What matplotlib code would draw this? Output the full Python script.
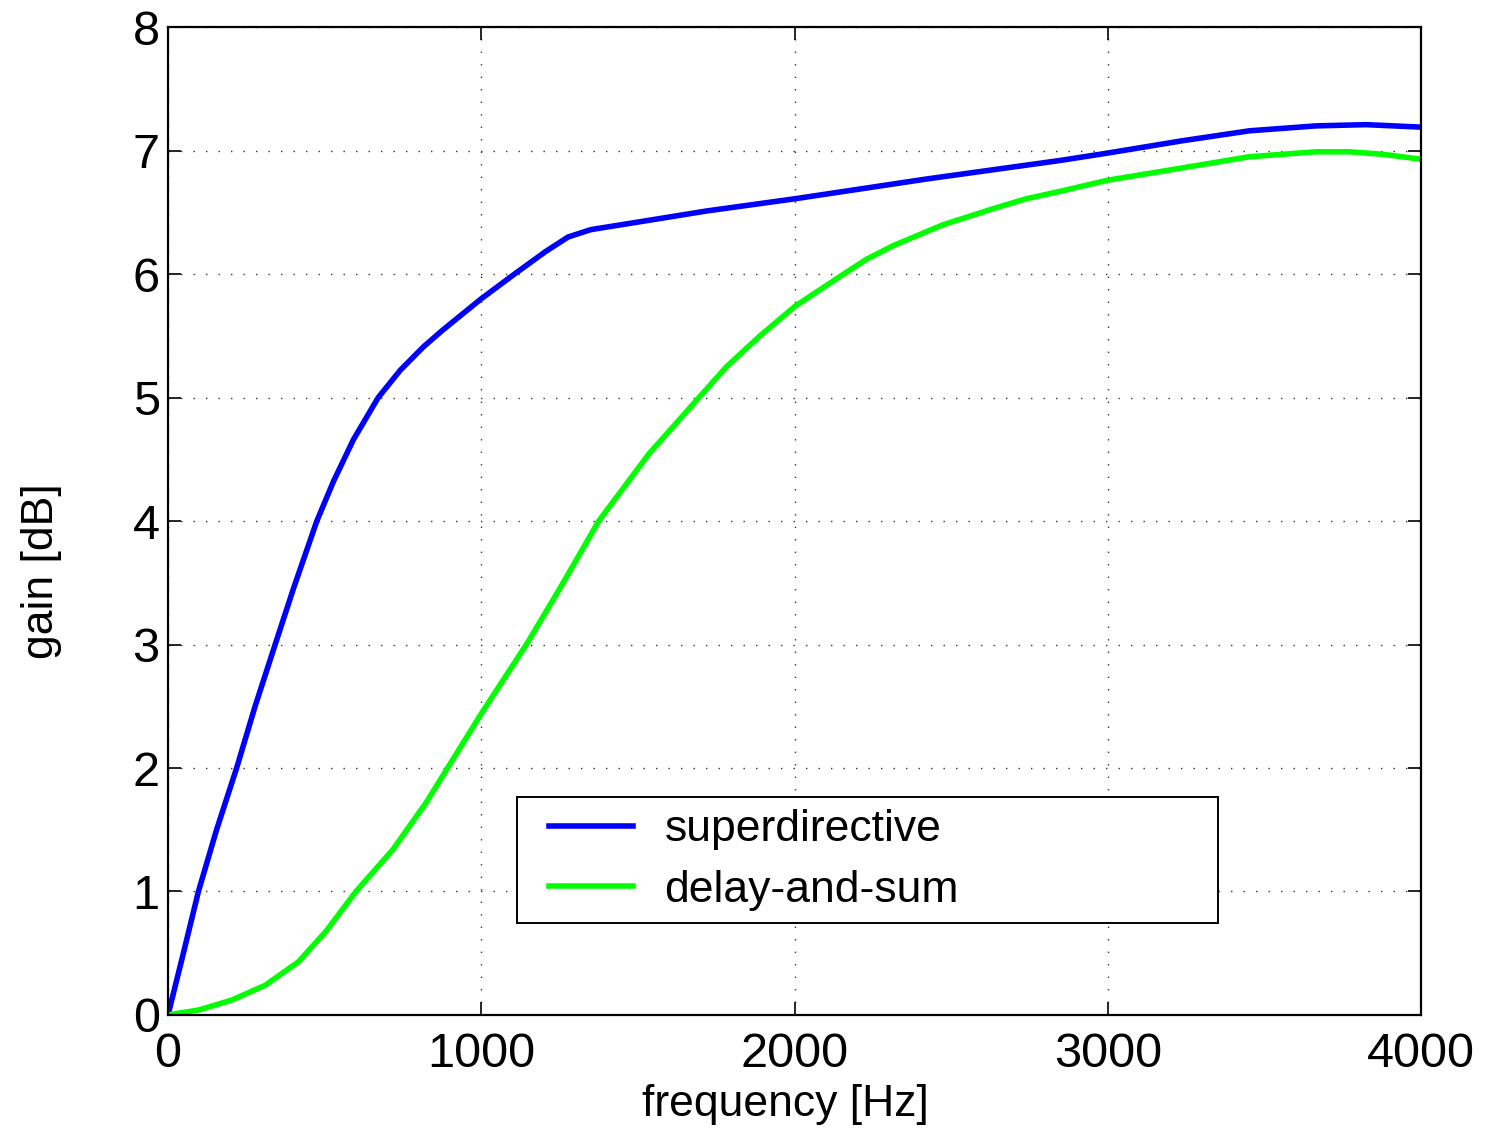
import numpy as np
import matplotlib
matplotlib.use('Agg')
import matplotlib.pyplot as plt
from matplotlib.legend_handler import HandlerLine2D

# superdirective beamformer gain
freq_sd = [0, 49, 97, 155, 219, 278, 342, 400, 475, 528, 592, 671, 741, 815, 874, 932, 1000,
           1106, 1204, 1277, 1350, 1473, 1571, 1717, 2002, 2422, 2848, 3000, 3239, 3452,
           3665, 3824, 4000]
gain_sd = [0, 0.5, 1.0, 1.5, 2.0, 2.5, 3.0, 3.45, 4.0, 4.32, 4.66, 5.0, 5.22, 5.41, 5.54, 5.66, 5.80,
           6.0, 6.18, 6.30, 6.36, 6.41, 6.45, 6.51, 6.61, 6.77, 6.92, 6.98, 7.08, 7.16,
           7.20, 7.21, 7.19]

# delay-and-sum beamformer gain
freq_ds = [0, 97, 203, 310, 416, 505, 600, 718, 824, 1000, 1144, 1250, 1375, 1534, 1688,
           1783, 1890, 2002, 2145, 2230, 2315, 2475, 2635, 2740, 2848, 3000, 3239, 3452, 3665,
           3771, 3878, 4000]
gain_ds = [0, 0.04, 0.12, 0.24, 0.43, 0.68, 1.0, 1.34, 1.72, 2.44, 3.0, 3.45, 4.0, 4.54, 4.98,
           5.25, 5.50, 5.74, 5.98, 6.12, 6.23, 6.40, 6.53, 6.61, 6.67, 6.76, 6.86, 6.95, 6.99,
           6.99, 6.97, 6.93]

labels = ['superdirective', 'delay-and-sum']
xticks = [0, 1000, 2000, 3000, 4000]
yticks = [0, 1, 2, 3, 4, 5, 6, 7, 8]

plt.rcParams['font.family'] = ['Liberation Sans', 'DejaVu Sans']

fig = plt.figure(figsize=(14.87, 11.29), dpi=100)
ax = fig.add_axes([0.113, 0.101, 0.8426, 0.875])

ax.plot(freq_sd, gain_sd, color=(0, 0, 1), lw=4, label=labels[0], solid_joinstyle='round')
ax.plot(freq_ds, gain_ds, color=(0, 1, 0), lw=4, label=labels[1], solid_joinstyle='round')

ax.set_xlim(0, 4000)
ax.set_ylim(0, 8)
ax.set_xticks(xticks)
ax.set_yticks(yticks)
ax.grid(True, color='#333333', linestyle=(0, (1, 8)), lw=1.0)

ax.tick_params(direction='in', top=True, right=True, length=9.5, width=1.2, labelsize=35)
ax.tick_params(axis='x', pad=12)
ax.tick_params(axis='y', pad=6)
for sp in ax.spines.values():
    sp.set_linewidth(1.6)

ax.set_xlabel('frequency [Hz]', fontsize=32, va='center')
ax.xaxis.set_label_coords(0.4924, -0.091)
ax.set_ylabel('gain [dB]', fontsize=32, va='center')
ax.yaxis.set_label_coords(-0.1006, 0.449)

fs = 32
leg = ax.legend(loc='lower left', bbox_to_anchor=(0.2785, 0.0931, 0.5595, 0.1265), mode='expand',
                borderaxespad=0, fancybox=False, framealpha=1, edgecolor='black',
                handlelength=2.8, handletextpad=0.25, labelspacing=0.44, borderpad=0.27,
                handler_map={matplotlib.lines.Line2D: HandlerLine2D(marker_pad=0.45, numpoints=2)},
                prop={'size': fs})
leg.get_frame().set_linewidth(1.4)

fig.savefig('out.png', dpi=100)
